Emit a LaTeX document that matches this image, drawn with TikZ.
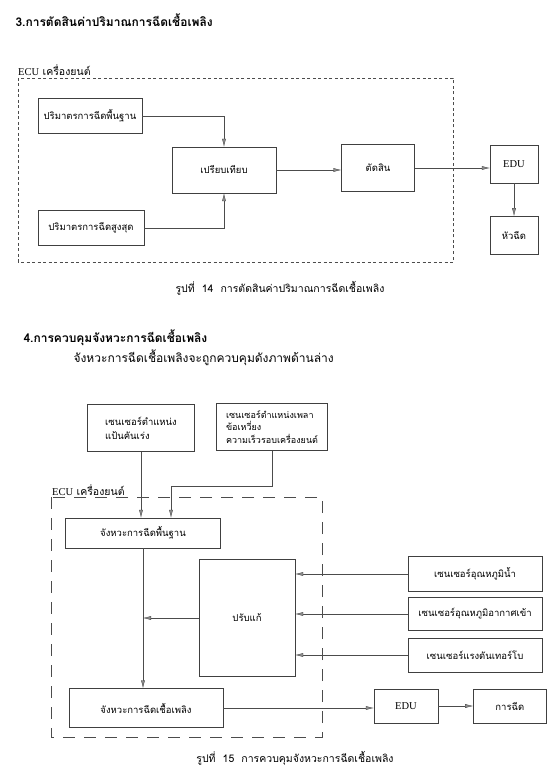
\documentclass[tikz,border=0pt]{standalone}
\usepackage{fontspec}
\setmainfont{Liberation Serif}
\newfontfamily\thai[Script=Thai]{Loma}
\usetikzlibrary{arrows.meta, positioning}

\begin{document}
\begin{tikzpicture}[x=1pt, y=-1pt,
  font=\thai\fontsize{9.5}{12}\selectfont,
  blk/.style={draw=black!75, thin, align=center, inner sep=2pt},
  arr/.style={-{Latex[length=8pt, width=4pt, fill=black!45]}, draw=black!70, thin},
  ttl/.style={anchor=west, font=\thai\bfseries\fontsize{12}{14}\selectfont},
  figcap/.style={font=\thai\fontsize{10.5}{12}\selectfont},
  ecu/.style={anchor=west, inner sep=0pt, font=\thai\fontsize{10.5}{12}\selectfont},
  latin/.style={font=\rmfamily\fontsize{10.5}{12}\selectfont},
  node distance=6mm and 5mm]

  \fill[white] (0,0) rectangle (555,775);
  \useasboundingbox (0,0) rectangle (555,775);

  % ---- figure 14
  \node[ttl] (title1) at (12,20) {3.การตัดสินค่าปริมาณการฉีดเชื้อเพลิง};
  \node[ecu] (ecu1) at (18,70) {{\rmfamily ECU} เครื่องยนต์};
  \draw[black!70, thin, dash pattern=on 3pt off 2.5pt] (18,78) rectangle (453,262);

  \node[blk, minimum width=104, minimum height=35] (basevol) at (90,116)
    {ปริมาตรการฉีดพื้นฐาน};
  \node[blk, minimum width=106, minimum height=35] (maxvol) at (91,228)
    {ปริมาตรการฉีดสูงสุด};
  \node[blk, minimum width=104, minimum height=46] (cmp) at (224,170) {เปรียบเทียบ};
  \node[blk, minimum width=73, minimum height=47] (judge) at (378,168) {ตัดสิน};
  \node[blk, latin, minimum width=48, minimum height=38] (edu1) at (514,164) {EDU};
  \node[blk, minimum width=48, minimum height=38, below=33pt of edu1] (nozzle) {หัวฉีด};

  \draw[arr] (basevol) -| (cmp);
  \draw[arr] (maxvol) -| (cmp);
  \draw[arr] (cmp) -- (cmp -| judge.west);
  \draw[arr] (judge) -- (judge -| edu1.west);
  \draw[arr] (edu1) -- (nozzle);

  \node[figcap] (cap14) at (280,288) {รูปที่ \ 14 \ การตัดสินค่าปริมาณการฉีดเชื้อเพลิง};

  % ---- figure 15
  \node[ttl] (title2) at (20,338) {4.การควบคุมจังหวะการฉีดเชื้อเพลิง};
  \node[anchor=west, font=\thai\fontsize{12}{14}\selectfont] (sub) at (70,358)
    {จังหวะการฉีดเชื้อเพลิงจะถูกควบคุมดังภาพด้านล่าง};

  \node[blk, minimum width=107, minimum height=47, align=left] (pedal) at (141,428)
    {เซนเซอร์ตำแหน่ง\\[2pt]แป้นคันเร่ง};
  \node[blk, minimum width=111, minimum height=47, align=left, inner sep=1pt,
        font=\thai\fontsize{9}{12.5}\selectfont] (crank) at (272,427)
    {เซนเซอร์ตำแหน่งเพลา\\ข้อเหวี่ยง\\ความเร็วรอบเครื่องยนต์};

  \node[ecu] (ecu2) at (52,490) {{\rmfamily ECU} เครื่องยนต์};
  \draw[black!70, thin, dash pattern=on 12pt off 9pt] (51,497) rectangle (322,737);

  \node[blk, minimum width=155, minimum height=30] (basetime) at (143,533)
    {จังหวะการฉีดพื้นฐาน};
  \node[blk, minimum width=96, minimum height=117] (corr) at (247,618) {ปรับแก้};
  \node[blk, minimum width=134, minimum height=35] (water) at (475,574)
    {เซนเซอร์อุณหภูมิน้ำ};
  \node[blk, minimum width=134, minimum height=33] (air) at (475,614)
    {เซนเซอร์อุณหภูมิอากาศเข้า};
  \node[blk, minimum width=134, minimum height=34] (turbo) at (475,655)
    {เซนเซอร์แรงดันเทอร์โบ};
  \node[blk, minimum width=154, minimum height=39] (fueltime) at (146,708)
    {จังหวะการฉีดเชื้อเพลิง};
  \node[blk, latin, minimum width=64, minimum height=34] (edu2) at (406,706) {EDU};
  \node[blk, minimum width=73, minimum height=34, right=35pt of edu2] (inject) {การฉีด};

  \draw[arr] (pedal) -- (pedal |- basetime.north);
  \draw[arr] (crank.south) -- ++(0,35) -| ([xshift=28]basetime.north);
  \draw[arr] (basetime.south) -- (basetime.south |- fueltime.north);
  \draw[arr] (corr) -- (corr -| basetime.south);
  \draw[arr] (water) -- (water -| corr.east);
  \draw[arr] (air) -- (air -| corr.east);
  \draw[arr] (turbo) -- (turbo -| corr.east);
  \draw[arr] (fueltime) -- (fueltime -| edu2.west);
  \draw[arr] (edu2) -- (inject);

  \node[figcap] (cap15) at (295,758) {รูปที่ \ 15 \ การควบคุมจังหวะการฉีดเชื้อเพลิง};
\end{tikzpicture}
\end{document}
